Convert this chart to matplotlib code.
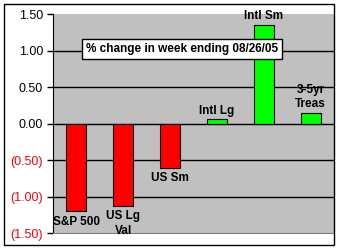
import matplotlib
matplotlib.use("Agg")
import matplotlib.pyplot as plt
from matplotlib.patches import Rectangle

# data
categories = ["S&P 500", "US Lg\nVal", "US Sm", "Intl Lg", "Intl Sm", "3-5yr\nTreas"]
changes = [-1.20, -1.13, -0.60, 0.06, 1.35, 0.15]
yticks = [-1.5, -1.0, -0.5, 0.0, 0.5, 1.0, 1.5]
title = "% change in week ending 08/26/05"

plt.rcParams['font.family'] = ['Liberation Sans', 'DejaVu Sans']

fig = plt.figure(figsize=(3.39, 2.49), dpi=100)
fig.patch.set_facecolor("white")

# outer frame of the chart
fig.patches.append(Rectangle((4 / 339, 4 / 249), 330 / 339, 241 / 249,
                             transform=fig.transFigure, fill=False,
                             edgecolor="black", linewidth=1.0, zorder=10))

ax = fig.add_axes([52.7 / 339, 15.7 / 249, 281.5 / 339, 219 / 249])
ax.set_facecolor("#C0C0C0")

x = list(range(len(categories)))
colors = ["#FF0000" if v < 0 else "#00FF00" for v in changes]
ax.bar(x, changes, width=0.42, color=colors, edgecolor="black", linewidth=0.8, zorder=3)

for xi, v, lab in zip(x, changes, categories):
    if v < 0:
        ax.annotate(lab, (xi, v), xytext=(0, -3), textcoords="offset points",
                    ha="center", va="top", fontsize=8.5, fontweight="bold",
                    linespacing=1.25, zorder=4)
    else:
        ax.annotate(lab, (xi, v), xytext=(0, 2), textcoords="offset points",
                    ha="center", va="bottom", fontsize=8.5, fontweight="bold",
                    linespacing=1.25, zorder=4)

ax.set_xlim(-0.5, len(categories) - 0.5)
ax.set_ylim(-1.5, 1.5)
ax.set_xticks([])
ax.set_yticks(yticks)
labels = []
for t in yticks:
    labels.append("(%.2f)" % abs(t) if t < 0 else "%.2f" % t)
ax.set_yticklabels(labels, fontsize=9)
for lbl, t in zip(ax.get_yticklabels(), yticks):
    lbl.set_color("red" if t < 0 else "black")
ax.tick_params(axis="y", direction="out", length=4, width=1, pad=3)

for t in yticks[1:-1]:
    ax.axhline(t, color="black", linewidth=1.0, zorder=1)

ax.spines["top"].set_visible(False)
ax.spines["right"].set_visible(False)
ax.spines["left"].set_color("black")
ax.spines["bottom"].set_color("#808080")

ax.text(0.46, 0.84, title, transform=ax.transAxes, ha="center", va="center",
        fontsize=8.5, fontweight="bold", zorder=5,
        bbox=dict(boxstyle="square,pad=0.35", facecolor="white", edgecolor="black", linewidth=1))

fig.savefig("out.png", dpi=100)
